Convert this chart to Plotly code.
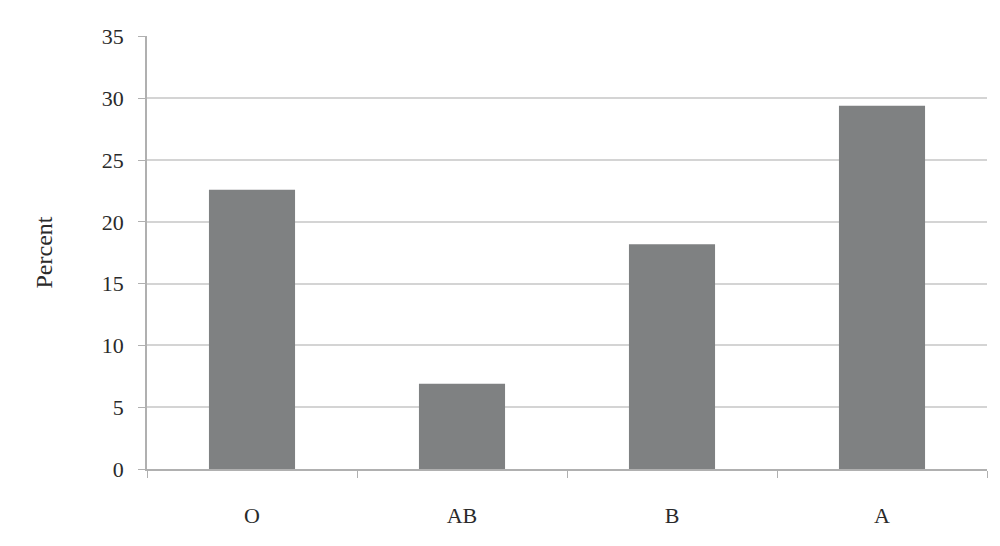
import plotly.graph_objects as go

categories = ["O", "AB", "B", "A"]
percent = [22.6, 6.9, 18.2, 29.4]
y_ticks = [0, 5, 10, 15, 20, 25, 30, 35]

fig = go.Figure(go.Bar(x=categories, y=percent, marker=dict(color="#7f8182", line=dict(width=0))))

tfont = dict(family="Liberation Serif", size=22, color="#2a2a2a")
fig.update_layout(
    width=984, height=530,
    margin=dict(l=139, r=5, t=28, b=69),
    paper_bgcolor="white", plot_bgcolor="white",
    bargap=0.59,
    showlegend=False,
    font=tfont,
)
fig.update_xaxes(
    showline=True, linecolor="#b0b0b0", linewidth=1.5,
    ticks="outside", tickson="boundaries", ticklen=7, tickcolor="#b0b0b0",
    showgrid=False, tickfont=tfont, ticklabelstandoff=26,
)
fig.update_yaxes(
    range=[0, 35.05], tickvals=y_ticks,
    showline=True, linecolor="#b0b0b0", linewidth=1.5,
    ticks="outside", ticklen=7, tickcolor="#b0b0b0",
    showgrid=True, gridcolor="#d4d4d4", gridwidth=1.5,
    zeroline=False,
    tickfont=tfont, ticklabelstandoff=10,
    title=dict(text="Percent", font=dict(family="Liberation Serif", size=24, color="#2a2a2a"), standoff=42),
)
fig.write_html("out.html")
